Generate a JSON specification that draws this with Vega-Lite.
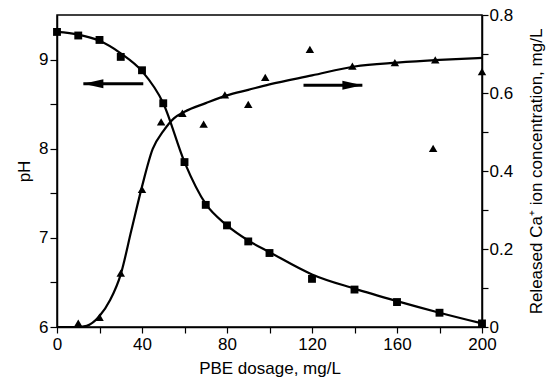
{
  "$schema": "https://vega.github.io/schema/vega-lite/v6.json",
  "autosize": "none",
  "width": 425,
  "height": 312,
  "padding": {"left": 57, "top": 15, "right": 73, "bottom": 58},
  "background": "white",
  "config": {
    "font": "Liberation Sans",
    "view": {"stroke": "black", "strokeWidth": 1.5},
    "axis": {
      "domainColor": "black", "domainWidth": 1.5,
      "tickColor": "black", "tickWidth": 1.2,
      "labelColor": "black", "labelFont": "Liberation Sans", "labelFontSize": 17,
      "titleColor": "black", "titleFont": "Liberation Sans", "titleFontSize": 17, "titleFontWeight": "normal",
      "grid": false
    }
  },
  "datasets": {
    "phPts": [
      {"dose": 0, "pH": 9.31}, {"dose": 10, "pH": 9.27}, {"dose": 20, "pH": 9.22},
      {"dose": 30, "pH": 9.03}, {"dose": 40, "pH": 8.88}, {"dose": 50, "pH": 8.51},
      {"dose": 60, "pH": 7.85}, {"dose": 70, "pH": 7.37}, {"dose": 80, "pH": 7.14},
      {"dose": 90, "pH": 6.96}, {"dose": 100, "pH": 6.83}, {"dose": 120, "pH": 6.54},
      {"dose": 140, "pH": 6.42}, {"dose": 160, "pH": 6.28}, {"dose": 180, "pH": 6.16},
      {"dose": 200, "pH": 6.04}
    ],
    "phFit": [
      {"dose": 0, "pH": 9.31}, {"dose": 10, "pH": 9.28}, {"dose": 20, "pH": 9.21},
      {"dose": 30, "pH": 9.07}, {"dose": 40, "pH": 8.87}, {"dose": 50, "pH": 8.51},
      {"dose": 60, "pH": 7.85}, {"dose": 70, "pH": 7.38}, {"dose": 80, "pH": 7.14},
      {"dose": 90, "pH": 6.97}, {"dose": 100, "pH": 6.84}, {"dose": 120, "pH": 6.59},
      {"dose": 140, "pH": 6.43}, {"dose": 160, "pH": 6.29}, {"dose": 180, "pH": 6.16},
      {"dose": 200, "pH": 6.04}
    ],
    "caPts": [
      {"dose": 10, "ca": 0.01}, {"dose": 20, "ca": 0.025}, {"dose": 30, "ca": 0.138},
      {"dose": 40, "ca": 0.353}, {"dose": 49, "ca": 0.526}, {"dose": 59, "ca": 0.548},
      {"dose": 69, "ca": 0.52}, {"dose": 79, "ca": 0.595}, {"dose": 90, "ca": 0.571},
      {"dose": 98, "ca": 0.64}, {"dose": 119, "ca": 0.712}, {"dose": 139, "ca": 0.669},
      {"dose": 159, "ca": 0.678}, {"dose": 177, "ca": 0.458}, {"dose": 178, "ca": 0.685},
      {"dose": 200, "ca": 0.655}
    ],
    "caFit": [
      {"dose": 0, "ca": 0}, {"dose": 10, "ca": 0.0}, {"dose": 14, "ca": 0.003},
      {"dose": 20, "ca": 0.028}, {"dose": 25, "ca": 0.069}, {"dose": 30, "ca": 0.135},
      {"dose": 35, "ca": 0.248}, {"dose": 40, "ca": 0.36}, {"dose": 45, "ca": 0.456},
      {"dose": 50, "ca": 0.502}, {"dose": 55, "ca": 0.535}, {"dose": 60, "ca": 0.552},
      {"dose": 70, "ca": 0.574}, {"dose": 80, "ca": 0.594}, {"dose": 90, "ca": 0.608},
      {"dose": 100, "ca": 0.622}, {"dose": 120, "ca": 0.645}, {"dose": 140, "ca": 0.668},
      {"dose": 160, "ca": 0.678}, {"dose": 180, "ca": 0.685}, {"dose": 200, "ca": 0.69}
    ],
    "phArrow": [{"dose": 40.6, "tip": 12.4, "pH": 8.73}],
    "caArrow": [{"dose": 116, "tip": 143.7, "ca": 0.62}]
  },
  "encoding": {
    "x": {
      "field": "dose", "type": "quantitative",
      "scale": {"domain": [0, 200], "nice": false, "zero": false},
      "axis": {
        "title": "PBE dosage, mg/L",
        "values": [0, 20, 40, 60, 80, 100, 120, 140, 160, 180, 200],
        "labelExpr": "datum.value % 40 == 0 ? datum.label : ''",
        "tickSize": 6, "labelPadding": 3, "titlePadding": 8, "labelFlush": false
      }
    }
  },
  "layer": [
    {
      "encoding": {
        "y": {
          "field": "pH", "type": "quantitative",
          "scale": {"domain": [6, 9.5], "nice": false, "zero": false},
          "axis": {
            "orient": "left", "title": "pH",
            "values": [6, 6.5, 7, 7.5, 8, 8.5, 9],
            "labelExpr": "datum.value % 1 == 0 ? format(datum.value, '~g') : ''",
            "tickSize": 7, "labelPadding": 2, "titlePadding": 5, "labelFlush": false
          }
        }
      },
      "layer": [
        {"data": {"name": "phFit"}, "mark": {"type": "line", "color": "black", "strokeWidth": 2.2, "interpolate": "monotone"}},
        {"data": {"name": "phPts"}, "mark": {"type": "point", "shape": "square", "filled": true, "color": "black", "opacity": 1, "size": 62}},
        {"data": {"name": "phArrow"}, "mark": {"type": "rule", "color": "black", "strokeWidth": 3},
         "encoding": {"x2": {"field": "tip"}}},
        {"data": {"name": "phArrow"}, "mark": {"type": "point", "filled": true, "color": "black", "opacity": 1, "size": 400, "shape": "M 0 0 L 2 -0.45 L 2 0.45 Z"},
         "encoding": {"x": {"field": "tip", "type": "quantitative"}}}
      ]
    },
    {
      "encoding": {
        "y": {
          "field": "ca", "type": "quantitative",
          "scale": {"domain": [0, 0.8], "nice": false},
          "axis": {
            "orient": "right", "title": "Released Ca⁺ ion concentration, mg/L",
            "values": [0, 0.1, 0.2, 0.3, 0.4, 0.5, 0.6, 0.7, 0.8],
            "labelExpr": "round(datum.value * 10) % 2 == 0 ? format(datum.value, '~g') : ''",
            "tickSize": 6, "labelPadding": 1, "titlePadding": 16, "titleAngle": 270, "titleBaseline": "top", "labelFlush": false
          }
        }
      },
      "layer": [
        {"data": {"name": "caFit"}, "mark": {"type": "line", "color": "black", "strokeWidth": 2.2, "interpolate": "monotone"}},
        {"data": {"name": "caPts"}, "mark": {"type": "point", "shape": "triangle-up", "filled": true, "color": "black", "opacity": 1, "size": 72}},
        {"data": {"name": "caArrow"}, "mark": {"type": "rule", "color": "black", "strokeWidth": 3},
         "encoding": {"x2": {"field": "tip"}}},
        {"data": {"name": "caArrow"}, "mark": {"type": "point", "filled": true, "color": "black", "opacity": 1, "size": 400, "shape": "M 0 0 L -2 -0.45 L -2 0.45 Z"},
         "encoding": {"x": {"field": "tip", "type": "quantitative"}}}
      ]
    }
  ],
  "resolve": {"scale": {"y": "independent"}}
}
